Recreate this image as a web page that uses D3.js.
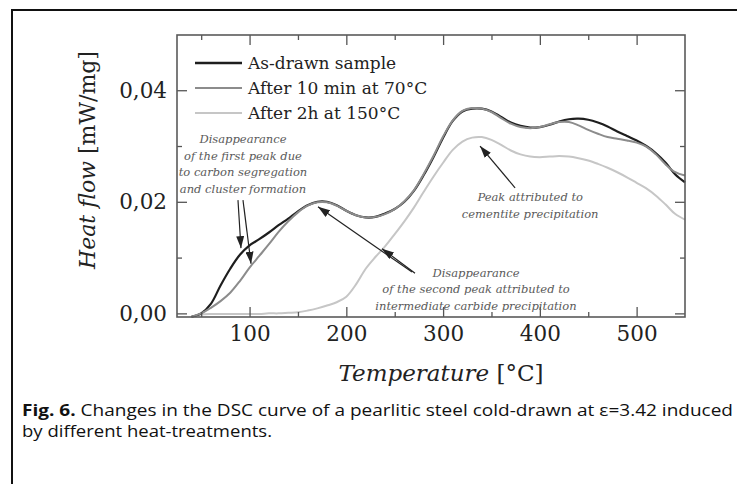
<!DOCTYPE html>
<html>
<head>
<meta charset="utf-8">
<script src="https://cdn.jsdelivr.net/npm/d3@7"></script>
<style>
  html, body { margin: 0; padding: 0; background: #fff; }
  svg { display: block; }
</style>
</head>
<body>
<svg id="chart" width="737" height="484"></svg>
<script>
// Temperature grid (°C) at which the DSC curves were sampled
const temperature = [40, 50, 60, 70, 80, 90, 100, 110, 120, 130, 140, 150, 160, 170, 180, 190,
  200, 210, 220, 230, 240, 250, 260, 270, 280, 290, 300, 310, 320, 330, 340, 350, 360, 370,
  380, 390, 400, 410, 420, 430, 440, 450, 460, 470, 480, 490, 500, 510, 520, 530, 540, 550];

// Heat flow (mW/mg), one array per heat treatment
const asDrawn = [-0.0006, 0.0000, 0.0017, 0.0050, 0.0080, 0.0105, 0.0122, 0.0133, 0.0145, 0.0158,
  0.0170, 0.0183, 0.0194, 0.0200, 0.0200, 0.0194, 0.0184, 0.0176, 0.0172, 0.0173, 0.0179, 0.0187,
  0.0200, 0.0220, 0.0248, 0.0280, 0.0315, 0.0345, 0.0362, 0.0367, 0.0367, 0.0362, 0.0352, 0.0342,
  0.0336, 0.0333, 0.0334, 0.0338, 0.0344, 0.0348, 0.0349, 0.0347, 0.0342, 0.0335, 0.0326, 0.0318,
  0.0310, 0.0300, 0.0287, 0.0270, 0.0249, 0.0235];

const after10min70 = [-0.0006, 0.0000, 0.0010, 0.0022, 0.0037, 0.0058, 0.0082, 0.0103, 0.0124, 0.0146,
  0.0165, 0.0181, 0.0193, 0.0199, 0.0199, 0.0193, 0.0184, 0.0176, 0.0172, 0.0173, 0.0178, 0.0187,
  0.0201, 0.0221, 0.0250, 0.0282, 0.0317, 0.0346, 0.0363, 0.0368, 0.0367, 0.0361, 0.0350, 0.0340,
  0.0334, 0.0332, 0.0334, 0.0339, 0.0343, 0.0343, 0.0337, 0.0329, 0.0322, 0.0316, 0.0313, 0.0310,
  0.0306, 0.0299, 0.0285, 0.0267, 0.0253, 0.0247];

const after2h150 = [-0.0006, -0.0002, -0.0001, -0.0001, -0.0001, -0.0001, -0.0001, -0.0001, 0.0000, 0.0000,
  0.0001, 0.0002, 0.0005, 0.0009, 0.0014, 0.0020, 0.0030, 0.0052, 0.0080, 0.0101, 0.0120, 0.0142,
  0.0165, 0.0190, 0.0218, 0.0245, 0.0270, 0.0293, 0.0308, 0.0315, 0.0316, 0.0311, 0.0302, 0.0292,
  0.0285, 0.0281, 0.0280, 0.0281, 0.0282, 0.0281, 0.0278, 0.0274, 0.0268, 0.0261, 0.0253, 0.0244,
  0.0234, 0.0224, 0.0211, 0.0195, 0.0178, 0.0168];

const seriesNames = ["As-drawn sample", "After 10 min at 70°C", "After 2h at 150°C"];

// Axis ticks
const xMajorTicks = [100, 200, 300, 400, 500];
const xMinorTicks = [50, 150, 250, 350, 450];
const yMajorTicks = [0.00, 0.02, 0.04];
const yMinorTicks = [0.01, 0.03];

const captionBold = "Fig. 6.";
const captionLine1 = "Changes in the DSC curve of a pearlitic steel cold-drawn at ε=3.42 induced";
const captionLine2 = "by different heat-treatments.";

// ---------------------------------------------------------------------------
const svg = d3.select("#chart");
const plot = { left: 177, right: 685, top: 35, bottom: 317 };

const x = d3.scaleLinear().domain([25, 550]).range([plot.left, plot.right]);
const y = d3.scaleLinear().domain([-0.00065, 0.0499]).range([plot.bottom, plot.top]);

const serif = "'DejaVu Serif', 'Liberation Serif', serif";
const commaFmt = d3.formatLocale({ decimal: ",", thousands: ".", grouping: [3], currency: ["", ""] }).format(".2f");

// Outer figure frame (continues past the right and bottom edges)
svg.append("path")
  .attr("d", "M12,490 L12,10 L745,10")
  .attr("fill", "none").attr("stroke", "#111").attr("stroke-width", 2);

// Arrowhead
svg.append("defs").append("marker")
  .attr("id", "arrow").attr("markerUnits", "userSpaceOnUse")
  .attr("viewBox", "0 0 12 8").attr("refX", 12).attr("refY", 4)
  .attr("markerWidth", 12).attr("markerHeight", 8).attr("orient", "auto")
  .append("path").attr("d", "M0,0 L12,4 L0,8 Z").attr("fill", "#222");

// Curves
const line = d3.line()
  .x(d => x(d[0])).y(d => y(d[1]))
  .curve(d3.curveCatmullRom.alpha(0.5));

const series = [
  { name: seriesNames[2], values: after2h150, color: "#c6c6c6", width: 2 },
  { name: seriesNames[1], values: after10min70, color: "#8c8c8c", width: 2 },
  { name: seriesNames[0], values: asDrawn, color: "#1e1e1e", width: 2.2 }
];

// Black curve under the gray one where they overlap gives the doubled look
const drawOrder = [series[0], series[2], series[1]];
svg.append("g").selectAll("path")
  .data(drawOrder)
  .join("path")
  .attr("d", s => line(d3.zip(temperature, s.values)))
  .attr("fill", "none")
  .attr("stroke", s => s.color)
  .attr("stroke-width", s => s.width)
  .attr("stroke-linejoin", "round");

// Axes with inward ticks on all four sides
function styleAxis(g) {
  g.select(".domain").remove();
  g.selectAll(".tick line").attr("stroke", "#555").attr("stroke-width", 1.3);
  g.selectAll(".tick text").attr("fill", "#222").attr("font-family", serif).attr("font-size", 21.5);
}

svg.append("g").attr("transform", `translate(0,${plot.bottom})`)
  .call(d3.axisBottom(x).tickValues(xMajorTicks).tickSize(-10).tickPadding(9).tickFormat(d3.format("d")))
  .call(styleAxis)
  .call(g => g.selectAll(".tick text").attr("dy", "0.71em"));
svg.append("g").attr("transform", `translate(0,${plot.bottom})`)
  .call(d3.axisBottom(x).tickValues(xMinorTicks).tickSize(-5).tickFormat(""))
  .call(styleAxis);
svg.append("g").attr("transform", `translate(0,${plot.top})`)
  .call(d3.axisTop(x).tickValues(xMajorTicks).tickSize(-10).tickFormat(""))
  .call(styleAxis);
svg.append("g").attr("transform", `translate(0,${plot.top})`)
  .call(d3.axisTop(x).tickValues(xMinorTicks).tickSize(-5).tickFormat(""))
  .call(styleAxis);

svg.append("g").attr("transform", `translate(${plot.left},0)`)
  .call(d3.axisLeft(y).tickValues(yMajorTicks).tickSize(-10).tickPadding(10).tickFormat(commaFmt))
  .call(styleAxis);
svg.append("g").attr("transform", `translate(${plot.left},0)`)
  .call(d3.axisLeft(y).tickValues(yMinorTicks).tickSize(-5).tickFormat(""))
  .call(styleAxis);
svg.append("g").attr("transform", `translate(${plot.right},0)`)
  .call(d3.axisRight(y).tickValues(yMajorTicks).tickSize(-10).tickFormat(""))
  .call(styleAxis);
svg.append("g").attr("transform", `translate(${plot.right},0)`)
  .call(d3.axisRight(y).tickValues(yMinorTicks).tickSize(-5).tickFormat(""))
  .call(styleAxis);

// Plot frame
svg.append("rect")
  .attr("x", plot.left).attr("y", plot.top)
  .attr("width", plot.right - plot.left).attr("height", plot.bottom - plot.top)
  .attr("fill", "none").attr("stroke", "#5a5a5a").attr("stroke-width", 1.6);

// Axis titles
const xt = svg.append("text")
  .attr("x", 441).attr("y", 381).attr("text-anchor", "middle")
  .attr("font-family", serif).attr("font-size", 23).attr("fill", "#222");
xt.append("tspan").attr("font-style", "italic").text("Temperature");
xt.append("tspan").text(" [°C]");

const yt = svg.append("text")
  .attr("transform", "translate(95,160) rotate(-90)").attr("text-anchor", "middle")
  .attr("font-family", serif).attr("font-size", 22).attr("fill", "#222");
yt.append("tspan").attr("font-style", "italic").text("Heat flow");
yt.append("tspan").text(" [mW/mg]");

// Legend
const legendRows = [series[2], series[1], series[0]];
const legend = svg.append("g").selectAll("g")
  .data(legendRows).join("g")
  .attr("transform", (d, i) => `translate(195,${63 + i * 25})`);
legend.append("line")
  .attr("x1", 0).attr("x2", 47)
  .attr("stroke", d => d.color).attr("stroke-width", (d, i) => i === 0 ? 2.4 : 2);
legend.append("text")
  .attr("x", 53).attr("dy", "0.35em")
  .attr("font-family", serif).attr("font-size", 17).attr("fill", "#222")
  .text(d => d.name);

// Annotations (positions in data units)
const notes = [
  { t: 93.2, v: 0.0305, lines: ["Disappearance", "of the first peak due", "to carbon segregation", "and cluster formation"] },
  { t: 334, v: 0.0066, lines: ["Disappearance", "of the second peak attributed to", "intermediate carbide precipitation"] },
  { t: 390, v: 0.0201, lines: ["Peak attributed to", "cementite precipitation"] }
];
notes.forEach(n => {
  const t = svg.append("text")
    .attr("x", x(n.t)).attr("y", y(n.v))
    .attr("text-anchor", "middle")
    .attr("font-family", serif).attr("font-style", "italic")
    .attr("font-size", 11.5).attr("fill", "#5a5a5a");
  n.lines.forEach((l, i) => t.append("tspan").attr("x", x(n.t)).attr("dy", i === 0 ? 0 : 16.5).text(l));
});

const arrows = [
  { from: [88.0, 0.0203], to: [91.1, 0.0117] },
  { from: [93.2, 0.0203], to: [101.5, 0.0089] },
  { from: [267.9, 0.0074], to: [170.7, 0.0191] },
  { from: [271.0, 0.0072], to: [236.9, 0.0116] },
  { from: [374.4, 0.0225], to: [338.2, 0.0300] }
];
svg.append("g").selectAll("line")
  .data(arrows).join("line")
  .attr("x1", d => x(d.from[0])).attr("y1", d => y(d.from[1]))
  .attr("x2", d => x(d.to[0])).attr("y2", d => y(d.to[1]))
  .attr("stroke", "#222").attr("stroke-width", 1.2)
  .attr("marker-end", "url(#arrow)");

// Caption
const sans = "'Liberation Sans Narrow', 'Arial Narrow', 'Open Sans', sans-serif";
const cap1 = svg.append("text")
  .attr("x", 22).attr("y", 416)
  .attr("font-family", sans).attr("font-size", 16.5).attr("fill", "#111")
  .attr("textLength", 711).attr("lengthAdjust", "spacingAndGlyphs");
cap1.append("tspan").attr("font-weight", "bold").text(captionBold);
cap1.append("tspan").text(" " + captionLine1);
svg.append("text")
  .attr("x", 22).attr("y", 437)
  .attr("font-family", sans).attr("font-size", 16.5).attr("fill", "#111")
  .attr("textLength", 250).attr("lengthAdjust", "spacingAndGlyphs")
  .text(captionLine2);
</script>
</body>
</html>
